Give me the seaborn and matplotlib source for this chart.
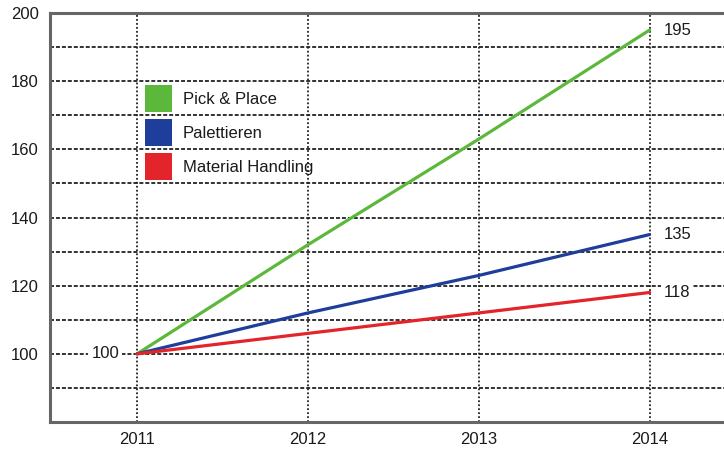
import matplotlib
matplotlib.use("Agg")
import matplotlib.pyplot as plt
from matplotlib.patches import Patch
import seaborn as sns
import pandas as pd

years = [2011, 2012, 2013, 2014]
pick_place = [100, 132, 163, 195]
palettieren = [100, 112, 123, 135]
material_handling = [100, 106, 112, 118]
series_names = ["Pick & Place", "Palettieren", "Material Handling"]
colors = ["#5cb83a", "#1f3d9a", "#e3242b"]
y_ticks = [100, 120, 140, 160, 180, 200]

sns.set_theme(style="white")
plt.rcParams["font.family"] = ["Liberation Sans", "DejaVu Sans"]

df = pd.DataFrame({
    "year": years * 3,
    "value": pick_place + palettieren + material_handling,
    "series": [series_names[0]] * 4 + [series_names[1]] * 4 + [series_names[2]] * 4,
})

FS = 12
TXT = "#1a1a1a"

fig = plt.figure(figsize=(7.24, 4.5), dpi=100)
ax = fig.add_axes([50 / 724, 28 / 450, 685 / 724, 409 / 450])

# grid
for v in range(90, 200, 10):
    ax.axhline(v, color="#222222", lw=1.3, ls=(0, (2.2, 1.1)), zorder=1)
for yr in years:
    ax.axvline(yr, color="#222222", lw=1.3, ls=(0, (1.0, 1.2)), zorder=1)

sns.lineplot(data=df, x="year", y="value", hue="series", palette=colors,
             hue_order=series_names, lw=2.3, legend=False, ax=ax, zorder=3)

ax.set_xlim(2010.49, 2014.5)
ax.set_ylim(80, 200)
ax.set_xticks(years)
ax.set_xticklabels([str(y) for y in years])
ax.set_yticks(y_ticks)
ax.set_yticklabels([str(t) for t in y_ticks])
ax.set_xlabel("")
ax.set_ylabel("")
ax.tick_params(axis="both", length=0, labelsize=FS, labelcolor=TXT)
ax.tick_params(axis="x", pad=7)
ax.tick_params(axis="y", pad=8)

for s in ["left", "top", "bottom"]:
    ax.spines[s].set_color("#666666")
    ax.spines[s].set_linewidth(2.2)
ax.spines["right"].set_visible(False)

bbox = dict(facecolor="white", edgecolor="none", pad=2)
ax.annotate("100", (years[0], pick_place[0]), xytext=(-13, 0), textcoords="offset points",
            ha="right", va="center", fontsize=FS, color=TXT, bbox=bbox, zorder=4)
for vals in [pick_place, palettieren, material_handling]:
    ax.annotate(str(vals[-1]), (years[-1], vals[-1]), xytext=(10, 0), textcoords="offset points",
                ha="left", va="center", fontsize=FS, color=TXT, bbox=bbox, zorder=4)

handles = [Patch(facecolor=c, edgecolor="none") for c in colors]
fig.legend(handles, series_names, loc="upper left", bbox_to_anchor=(145 / 724, 1 - 85 / 450),
           bbox_transform=fig.transFigure, frameon=False, fontsize=FS,
           handlelength=1.62, handleheight=2.115, labelspacing=0.42, handletextpad=0.65,
           borderpad=0, borderaxespad=0, labelcolor=TXT)

fig.savefig("out.png", dpi=100)
